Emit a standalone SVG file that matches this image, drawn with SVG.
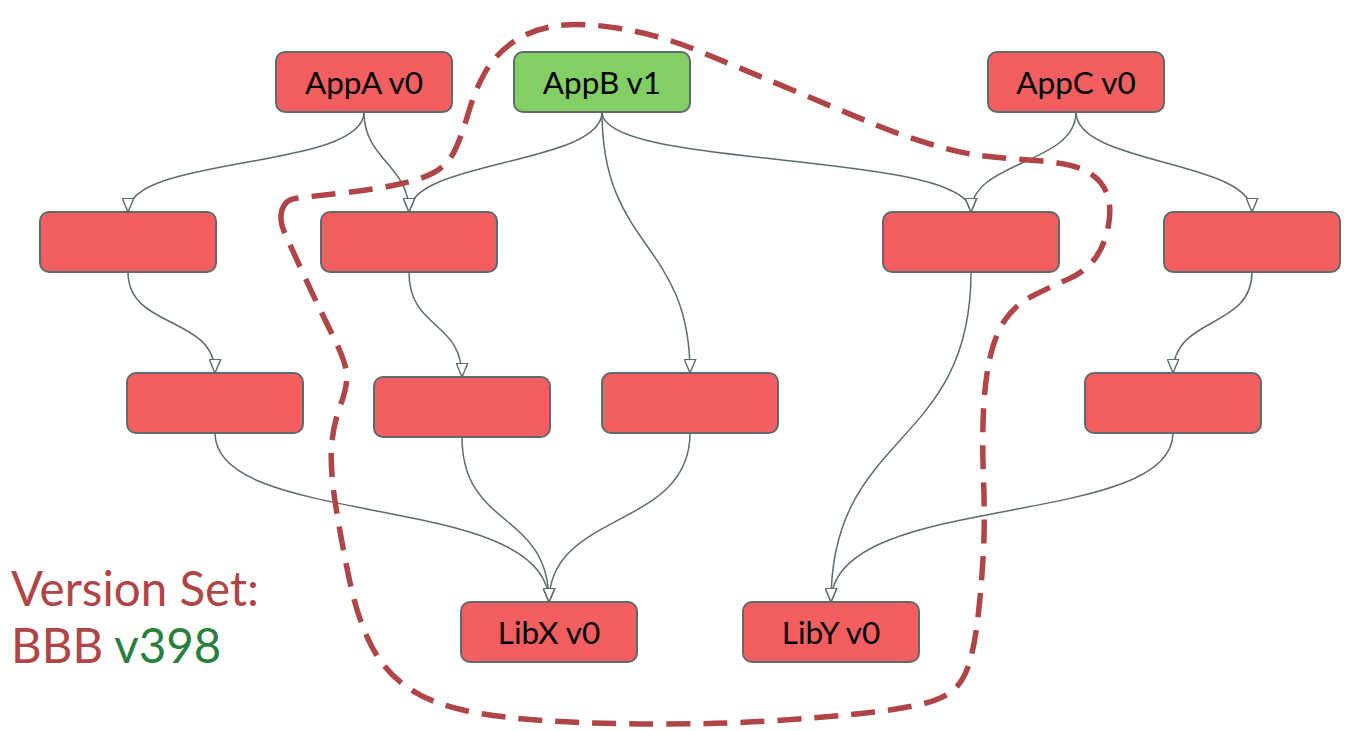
<svg xmlns="http://www.w3.org/2000/svg" width="1353" height="731" viewBox="0 0 1353 731">
<style>
.node rect{fill:#f35f61;stroke:#5f6b6b;stroke-width:2}
.node.green rect{fill:#82cf63}
.node text{font-family:Lato,"Liberation Sans",sans-serif;font-size:31.5px;fill:#000;text-anchor:middle}
.edge{fill:none;stroke:#5f6b6b;stroke-width:1.5;marker-end:url(#arr)}
.set{fill:none;stroke:#b04548;stroke-width:5.5;stroke-dasharray:24 13}
.lbl{font-family:Lato,"Liberation Sans",sans-serif;font-size:47.5px}
</style>
<defs>
<marker id="arr" markerUnits="userSpaceOnUse" viewBox="0 0 15 13" refX="14.5" refY="6.5" markerWidth="15" markerHeight="13" orient="auto">
<path d="M0.7,0.7 L14.5,6.5 L0.7,12.3 Z" fill="#fff" stroke="#5f6b6b" stroke-width="1.4"/>
</marker>
</defs>
<rect width="1353" height="731" fill="#fff"/>
<g id="connectors">
<path class="edge" d="M364,112 C364,170 128,155 128,212"/>
<path class="edge" d="M364,112 C364,160 409,165 409,212"/>
<path class="edge" d="M602,112 C602,165 409,160 409,212"/>
<path class="edge" d="M602,112 C602,250 690,240 690,373"/>
<path class="edge" d="M602,112 C602,170 971,150 971,212"/>
<path class="edge" d="M1076,112 C1076,165 971,160 971,212"/>
<path class="edge" d="M1076,112 C1076,165 1252,160 1252,212"/>
<path class="edge" d="M128,272 C128,330 215,315 215,373"/>
<path class="edge" d="M409,272 C409,330 462,320 462,377"/>
<path class="edge" d="M971,272 C971,450 831,430 831,602"/>
<path class="edge" d="M1252,272 C1252,330 1173,315 1173,373"/>
<path class="edge" d="M215,433 C215,530 549,490 549,602"/>
<path class="edge" d="M462,437 C462,530 549,510 549,602"/>
<path class="edge" d="M690,433 C690,530 549,510 549,602"/>
<path class="edge" d="M1173,433 C1173,530 831,490 831,602"/>
</g>
<g id="appA" class="node"><rect x="276" y="52" width="176" height="60" rx="9"/><text x="364" y="94">AppA v0</text></g>
<g id="appB" class="node green"><rect x="514" y="52" width="176" height="60" rx="9"/><text x="602" y="94">AppB v1</text></g>
<g id="appC" class="node"><rect x="988" y="52" width="176" height="60" rx="9"/><text x="1076" y="94">AppC v0</text></g>
<g id="n1" class="node"><rect x="40" y="212" width="176" height="60" rx="9"/></g>
<g id="n2" class="node"><rect x="321" y="212" width="176" height="60" rx="9"/></g>
<g id="n3" class="node"><rect x="883" y="212" width="176" height="60" rx="9"/></g>
<g id="n4" class="node"><rect x="1164" y="212" width="176" height="60" rx="9"/></g>
<g id="n5" class="node"><rect x="127" y="373" width="176" height="60" rx="9"/></g>
<g id="n6" class="node"><rect x="374" y="377" width="176" height="60" rx="9"/></g>
<g id="n7" class="node"><rect x="602" y="373" width="176" height="60" rx="9"/></g>
<g id="n8" class="node"><rect x="1085" y="373" width="176" height="60" rx="9"/></g>
<g id="libX" class="node"><rect x="461" y="602" width="176" height="60" rx="9"/><text x="549" y="644">LibX v0</text></g>
<g id="libY" class="node"><rect x="743" y="602" width="176" height="60" rx="9"/><text x="831" y="644">LibY v0</text></g>
<g id="versionSet">
<path class="set" d="M282,210 Q279,220 284.5,232.5 Q290,245 305,277.5 Q320,310 332.5,335 Q345,360 346.5,372.5 Q348,385 340.5,405 Q333,425 331.5,447.5 Q330,470 336,507.5 Q342,545 350,582.5 Q358,620 371.5,646 Q385,672 407.5,687.5 Q430,703 465,710.5 Q500,718 550,721 Q600,724 665,724 Q730,724 785,720 Q840,716 870,712.5 Q900,709 920,704.5 Q940,700 951.5,691.5 Q963,683 969,664 Q975,645 978.5,612.5 Q982,580 983.5,550 Q985,520 983.5,480 Q982,440 983.5,410 Q985,380 990,357.5 Q995,335 1005,320 Q1015,305 1032.5,296 Q1050,287 1067.5,279.5 Q1085,272 1095,258.5 Q1105,245 1108.5,225 Q1112,205 1106,191.5 Q1100,178 1085,170.5 Q1070,163 1035,160.5 Q1000,158 980,155.5 Q960,153 930,144 Q900,135 870,122.5 Q840,110 790,89 Q740,68 700,51.5 Q660,35 620,28.5 Q580,22 555,26 Q530,30 512.5,42.5 Q495,55 485,72.5 Q475,90 468.5,112.5 Q462,135 455,150 Q448,165 434,172.5 Q420,180 395,185 Q370,190 337.5,193.5 Q305,197 295,198.5 Q285,200 282,210 Z"/>
<text class="lbl" x="11" y="606" fill="#b04548">Version Set:</text>
<text class="lbl" x="11" y="663" fill="#b04548">BBB <tspan fill="#2a7f3e">v398</tspan></text>
</g>
</svg>
